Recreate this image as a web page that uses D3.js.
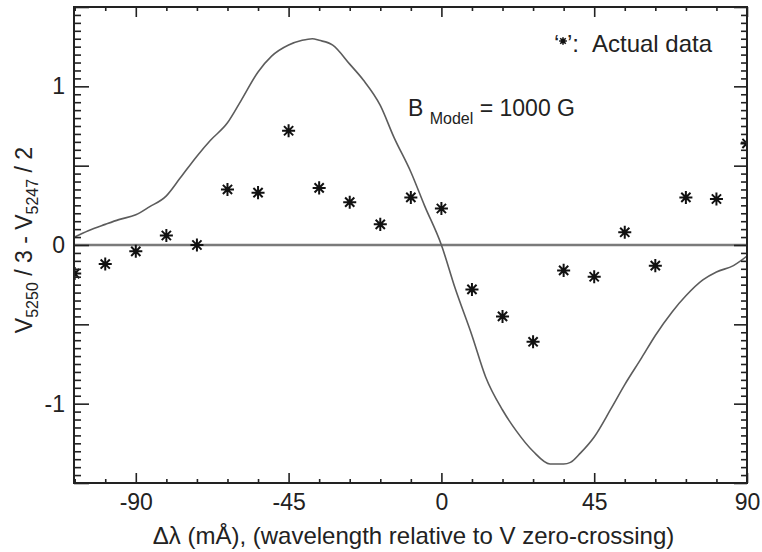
<!DOCTYPE html>
<html lang="en">
<head>
    <meta charset="UTF-8">
    <title>V5250/3 - V5247/2 vs wavelength</title>
    <script src="https://d3js.org/d3.v7.min.js"></script>
    <style>
        body, html {
            margin: 0;
            padding: 0;
            background: #ffffff;
        }
        svg text {
            font-family: "Liberation Sans", Arial, Helvetica, sans-serif;
            fill: #222;
        }
        .axis path.domain { display: none; }
        .axis line { stroke: #222; stroke-width: 1.6px; }
    </style>
</head>
<body>
<div id="chart"></div>
<script>
// measured points ("*") every 9 mA
const dataX = [-108, -99, -90, -81, -72, -63, -54, -45, -36, -27, -18, -9, 0,
               9, 18, 27, 36, 45, 54, 63, 72, 81, 90];
const dataY = [-0.18, -0.12, -0.04, 0.06, 0.00, 0.35, 0.33, 0.72, 0.36, 0.27, 0.13, 0.30, 0.23,
               -0.28, -0.45, -0.61, -0.16, -0.20, 0.08, -0.13, 0.30, 0.29, 0.64];

// model curve, B = 1000 G
const modelX = [-108, -104, -99, -95, -90, -86, -81, -77, -72, -68, -63, -59, -54, -50, -45, -41,
                -38, -36, -32, -27, -23, -18, -14, -9, -5, 0, 4, 9, 13, 18, 22, 27, 32, 36, 38,
                41, 45, 50, 54, 59, 63, 68, 72, 77, 81, 86, 90];
const modelY = [0.05, 0.09, 0.13, 0.16, 0.19, 0.24, 0.31, 0.42, 0.56, 0.66, 0.77, 0.91, 1.09, 1.19, 1.26, 1.29,
                1.30, 1.29, 1.26, 1.14, 1.04, 0.88, 0.68, 0.46, 0.25, 0.0, -0.27, -0.57, -0.83, -1.04, -1.17, -1.30, -1.38, -1.38, -1.37,
                -1.31, -1.21, -1.03, -0.88, -0.71, -0.57, -0.42, -0.32, -0.22, -0.17, -0.13, -0.07];

const xMajor = [-90, -45, 0, 45, 90];
const yLabels = [-1, 0, 1];

const width = 762, height = 552;
const margin = {top: 7, right: 15, bottom: 69, left: 74};
const iw = width - margin.left - margin.right;
const ih = height - margin.top - margin.bottom;

const x = d3.scaleLinear().domain([-108.2, 90]).range([0, iw]);
const y = d3.scaleLinear().domain([-1.5, 1.5]).range([ih, 0]);

const xMinor = d3.range(-108, 91, 9).filter(v => xMajor.indexOf(v) < 0);
const yMajor = d3.range(-3, 4).map(v => v * 0.5);
const yMinor = d3.range(-30, 31).map(v => v * 0.05).filter(v => Math.abs(v * 2 - Math.round(v * 2)) > 1e-6);

const svg = d3.select("#chart").append("svg")
    .attr("width", width)
    .attr("height", height);

svg.append("defs").append("clipPath").attr("id", "plot-clip")
    .append("rect").attr("width", iw).attr("height", ih);

const g = svg.append("g").attr("transform", `translate(${margin.left},${margin.top})`);

const plot = g.append("g").attr("clip-path", "url(#plot-clip)");

// zero line
plot.append("line")
    .attr("x1", 0).attr("x2", iw)
    .attr("y1", y(0)).attr("y2", y(0))
    .attr("stroke", "#7a7a7a")
    .attr("stroke-width", 2.5);

// model curve
const line = d3.line()
    .x((d, i) => x(modelX[i]))
    .y(d => y(d))
    .curve(d3.curveMonotoneX);

plot.append("path")
    .datum(modelY)
    .attr("d", line)
    .attr("fill", "none")
    .attr("stroke", "#5c5c5c")
    .attr("stroke-width", 1.6);

// asterisk symbol (8 arms)
const asterisk = {
    draw(context, size) {
        const r = Math.sqrt(size) / 2;
        for (let k = 0; k < 4; k++) {
            const a = k * Math.PI / 4;
            context.moveTo(-r * Math.cos(a), -r * Math.sin(a));
            context.lineTo(r * Math.cos(a), r * Math.sin(a));
        }
    }
};

plot.selectAll(".star")
    .data(dataY)
    .enter().append("path")
    .attr("class", "star")
    .attr("transform", (d, i) => `translate(${x(dataX[i])},${y(d)})`)
    .attr("d", d3.symbol().type(asterisk).size(170))
    .attr("fill", "none")
    .attr("stroke", "#111")
    .attr("stroke-width", 2);

// axes with inward ticks
const fmt = d => String(d);

g.append("g").attr("class", "axis")
    .attr("transform", `translate(0,${ih})`)
    .call(d3.axisBottom(x).tickValues(xMajor).tickSize(-10).tickPadding(11).tickFormat(fmt))
    .selectAll("text").style("font-size", "23px");

g.append("g").attr("class", "axis")
    .attr("transform", `translate(0,${ih})`)
    .call(d3.axisBottom(x).tickValues(xMinor).tickSize(-4).tickFormat(""));

g.append("g").attr("class", "axis")
    .call(d3.axisTop(x).tickValues(xMajor).tickSize(-10).tickFormat(""));

g.append("g").attr("class", "axis")
    .call(d3.axisTop(x).tickValues(xMinor).tickSize(-4).tickFormat(""));

g.append("g").attr("class", "axis")
    .call(d3.axisLeft(y).tickValues(yMajor).tickSize(-15).tickFormat(""));

g.append("g").attr("class", "axis")
    .call(d3.axisLeft(y).tickValues(yMinor).tickSize(-7).tickFormat(""));

g.append("g").attr("class", "axis")
    .call(d3.axisLeft(y).tickValues(yLabels).tickSize(0).tickPadding(9).tickFormat(fmt))
    .selectAll("text").style("font-size", "23px");

g.append("g").attr("class", "axis")
    .attr("transform", `translate(${iw},0)`)
    .call(d3.axisRight(y).tickValues(yMajor).tickSize(-13).tickFormat(""));

g.append("g").attr("class", "axis")
    .attr("transform", `translate(${iw},0)`)
    .call(d3.axisRight(y).tickValues(yMinor).tickSize(-6).tickFormat(""));

// frame
g.append("rect")
    .attr("width", iw).attr("height", ih)
    .attr("fill", "none")
    .attr("stroke", "#222")
    .attr("stroke-width", 2);

// x label
svg.append("text")
    .attr("x", margin.left + iw / 2 + 3)
    .attr("y", 544)
    .attr("text-anchor", "middle")
    .style("font-size", "24px")
    .text("\u0394\u03bb (m\u00c5), (wavelength relative to V zero-crossing)");

// y label
const yl = svg.append("text")
    .attr("transform", "translate(32,240) rotate(-90)")
    .attr("text-anchor", "middle")
    .style("font-size", "23px");
yl.append("tspan").text("V");
yl.append("tspan").attr("dy", 6).style("font-size", "16px").text("5250");
yl.append("tspan").attr("dy", -6).text(" / 3 - V");
yl.append("tspan").attr("dy", 6).style("font-size", "16px").text("5247");
yl.append("tspan").attr("dy", -6).text(" / 2");

// B_Model annotation
const bt = svg.append("text")
    .attr("x", 408).attr("y", 116)
    .style("font-size", "23px");
bt.append("tspan").text("B ");
bt.append("tspan").attr("dy", 8).style("font-size", "16px").text("Model");
bt.append("tspan").attr("dy", -8).text(" = 1000 G");

// legend
svg.append("text").attr("x", 554).attr("y", 52).style("font-size", "24px").text("\u2018");
svg.append("path")
    .attr("transform", "translate(563,41)")
    .attr("d", d3.symbol().type(asterisk).size(60))
    .attr("fill", "none")
    .attr("stroke", "#111")
    .attr("stroke-width", 1.6);
svg.append("text").attr("x", 567).attr("y", 52).style("font-size", "24px").text("\u2019:");
svg.append("text").attr("x", 592).attr("y", 52).style("font-size", "24px").text("Actual data");
</script>
</body>
</html>
